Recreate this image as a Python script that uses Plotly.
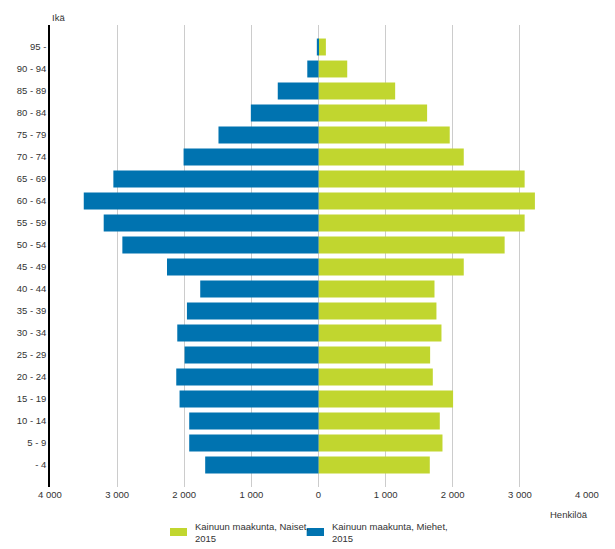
import plotly.graph_objects as go

age_groups = ["- 4", "5 - 9", "10 - 14", "15 - 19", "20 - 24", "25 - 29", "30 - 34",
              "35 - 39", "40 - 44", "45 - 49", "50 - 54", "55 - 59", "60 - 64",
              "65 - 69", "70 - 74", "75 - 79", "80 - 84", "85 - 89", "90 - 94", "95 -"]
women = [1658, 1847, 1807, 2005, 1703, 1663, 1832, 1757, 1728, 2164,
         2773, 3071, 3224, 3071, 2164, 1955, 1618, 1142, 428, 110]
men = [1688, 1926, 1926, 2070, 2119, 1995, 2104, 1960, 1762, 2257,
       2922, 3200, 3497, 3056, 2010, 1490, 1008, 607, 167, 25]
x_ticks = [-4000, -3000, -2000, -1000, 0, 1000, 2000, 3000, 4000]
x_tick_labels = ["4 000", "3 000", "2 000", "1 000", "0", "1 000", "2 000", "3 000", "4 000"]
series_names = ["Kainuun maakunta, Naiset,<br>2015", "Kainuun maakunta, Miehet,<br>2015"]

GREEN = "#c1d62f"
BLUE = "#0073b0"
TXT = "#333333"

fig = go.Figure()
fig.add_trace(go.Bar(
    y=age_groups, x=women, orientation="h", name=series_names[0],
    marker=dict(color=GREEN, line=dict(width=0)), showlegend=False,
))
fig.add_trace(go.Bar(
    y=age_groups, x=[-v for v in men], orientation="h", name=series_names[1],
    marker=dict(color=BLUE, line=dict(width=0)), showlegend=False,
    customdata=men, hovertemplate="%{y}: %{customdata}<extra></extra>",
))

# custom legend (rectangular swatches like the reference)
legend_items = [
    (GREEN, series_names[0], 0.2235, 0.2551, 0.2654),
    (BLUE, series_names[1], 0.478, 0.5102, 0.5214),
]
shapes = []
annotations = []
for color, label, sx0, sx1, tx in legend_items:
    shapes.append(dict(type="rect", xref="paper", yref="paper", x0=sx0, x1=sx1,
                       y0=-0.1061, y1=-0.0887, fillcolor=color, line=dict(width=0)))
    annotations.append(dict(text=label, xref="paper", yref="paper", x=tx, y=-0.0985,
                            xanchor="left", yanchor="middle", align="left", showarrow=False,
                            font=dict(size=9.5, color=TXT)))

annotations += [
    dict(text="Ikä", xref="paper", yref="paper", x=0, y=1, xanchor="left",
         yanchor="middle", yshift=8, showarrow=False, font=dict(size=9.5, color=TXT)),
    dict(text="Henkilöä", xref="paper", yref="paper", x=1.005, y=-0.06, xanchor="right",
         yanchor="middle", showarrow=False, font=dict(size=9.5, color=TXT)),
]

# the page body has an 8px margin, so the figure is 8px smaller and offset
fig.update_layout(
    width=607, height=541,
    barmode="overlay", bargap=0.23,
    plot_bgcolor="white", paper_bgcolor="white",
    font=dict(family="Liberation Sans, Arial, sans-serif", size=9.5, color=TXT),
    margin=dict(l=42, r=28, t=17, b=62, autoexpand=False),
    showlegend=False,
    xaxis=dict(
        range=[-4000, 4000], tickmode="array", tickvals=x_ticks, ticktext=x_tick_labels,
        showgrid=True, gridcolor="#cccccc", gridwidth=1, zeroline=False,
        showline=False, ticks="", tickfont=dict(size=9.5, color=TXT),
        fixedrange=True,
    ),
    yaxis=dict(
        type="category", categoryorder="array", categoryarray=age_groups,
        range=[-1, 20], showgrid=False, zeroline=False,
        showline=True, linecolor="#000000", linewidth=1.5, ticks="",
        tickfont=dict(size=9.5, color=TXT), fixedrange=True,
    ),
    shapes=shapes,
    annotations=annotations,
)

fig.write_html("out.html")
